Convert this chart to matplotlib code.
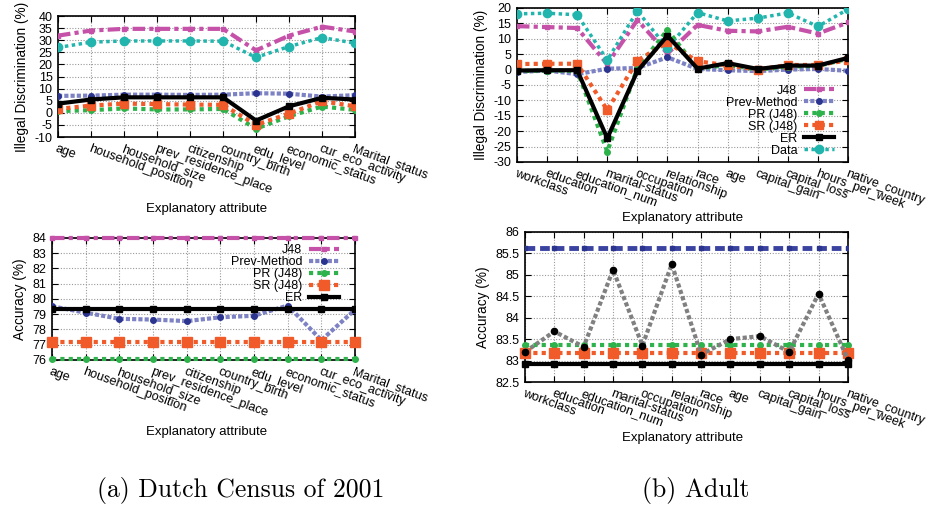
import matplotlib
matplotlib.use("Agg")
import matplotlib.pyplot as plt
import numpy as np

plt.rcParams["font.family"] = ["Liberation Sans", "DejaVu Sans"]
plt.rcParams["axes.unicode_minus"] = False
plt.rcParams["font.size"] = 9

# ---- (a) Dutch Census of 2001 ----
cats_a = ["age", "household_position", "household_size", "prev_residence_place",
          "citizenship", "country_birth", "edu_level", "economic_status",
          "cur_eco_activity", "Marital_status"]

disc_a_j48 = [31.9, 34.0, 34.7, 34.7, 34.7, 34.7, 25.8, 31.9, 35.6, 33.6]
disc_a_prev = [7.0, 7.1, 7.5, 7.5, 7.4, 7.5, 8.1, 7.9, 6.7, 7.3]
disc_a_pr = [0.7, 1.1, 1.8, 1.4, 1.4, 1.6, -6.6, -1.4, 2.6, 1.2]
disc_a_sr = [1.6, 3.0, 3.8, 3.6, 3.4, 3.3, -5.0, -0.3, 4.8, 2.7]
disc_a_er = [3.8, 5.5, 6.4, 6.4, 6.4, 6.4, -3.2, 2.7, 6.2, 5.5]
disc_a_data = [27.0, 29.2, 29.7, 29.7, 29.7, 29.6, 22.9, 27.4, 31.1, 28.8]

acc_a_j48 = [84.0] * 10
acc_a_prev = [79.52, 79.1, 78.7, 78.65, 78.55, 78.8, 78.9, 79.57, 77.3, 79.3]
acc_a_pr = [76.05] * 10
acc_a_sr = [77.15] * 10
acc_a_er = [79.35] * 10

# ---- (b) Adult ----
cats_b = ["workclass", "education", "education_num", "marital-status", "occupation",
          "relationship", "race", "age", "capital_gain", "capital_loss",
          "hours_per_week", "native_country"]

disc_b_j48 = [14.1, 13.8, 13.5, 1.8, 16.1, 5.2, 14.5, 12.6, 12.4, 13.9, 11.7, 15.3]
disc_b_prev = [-0.8, -0.3, -1.5, 0.3, 0.5, 4.0, 0.2, -0.2, -0.5, 0.0, 0.2, -0.4]
disc_b_pr = [-0.5, -0.3, -0.4, -26.6, 0.4, 12.9, 0.3, 1.5, 0.0, 1.0, 1.2, 3.5]
disc_b_sr = [1.8, 1.9, 1.9, -13.1, 2.9, 8.8, 2.7, 1.4, 0.0, 1.5, 1.5, 3.0]
disc_b_er = [-0.3, -0.2, -0.2, -22.3, -0.5, 11.0, 0.3, 2.1, 0.2, 1.3, 1.3, 3.8]
disc_b_data = [18.1, 18.3, 17.8, 3.1, 19.0, 7.0, 18.5, 15.8, 16.7, 18.4, 14.0, 19.6]

acc_b_j48 = [85.62] * 12
acc_b_prev = [83.2, 83.68, 83.32, 85.12, 83.35, 85.25, 83.14, 83.5, 83.57, 83.2, 84.56, 83.02]
acc_b_pr = [83.36] * 12
acc_b_sr = [83.18] * 12
acc_b_er = [82.91] * 12

C_J48 = "#c651a8"
C_PREV_LINE = "#7d82c4"
C_PREV_MK = "#2b3590"
C_PR = "#2eb24b"
C_SR = "#f15a29"
C_ER = "black"
C_DATA = "#22b5ad"


def style_axes(ax, cats, ylim, yticks):
    x = np.arange(len(cats))
    ax.set_xlim(0, len(cats) - 1)
    ax.set_ylim(*ylim)
    ax.set_yticks(yticks)
    ax.set_yticklabels([("%g" % v) for v in yticks], fontsize=9)
    ax.set_xticks(x)
    ax.set_xticklabels(cats, rotation=-20, ha="left", va="top",
                       rotation_mode="anchor", fontsize=9.1)
    ax.tick_params(direction="in", top=True, right=True, length=4, pad=4)
    ax.grid(True, color="#999999", linestyle=(0, (1, 1.5)), linewidth=0.8)
    ax.set_axisbelow(True)
    for s in ax.spines.values():
        s.set_linewidth(1.2)


def draw_disc(ax, x, j48, prev, pr, sr, er, data):
    ax.plot(x, j48, color=C_J48, lw=3, ls=(0, (3, 1, 1, 1)), marker="s", ms=3,
            label="J48", zorder=3)
    ax.plot(x, prev, color=C_PREV_LINE, lw=3, ls=(0, (1, 0.5)), marker="o", ms=4,
            mfc=C_PREV_MK, mec=C_PREV_MK, label="Prev-Method", zorder=3)
    ax.plot(x, pr, color=C_PR, lw=3, ls=(0, (1, 1)), marker="o", ms=4,
            label="PR (J48)", zorder=4)
    ax.plot(x, sr, color=C_SR, lw=3, ls=(0, (1, 1)), marker="s", ms=6,
            label="SR (J48)", zorder=5)
    ax.plot(x, er, color=C_ER, lw=3, ls="-", marker="s", ms=4,
            label="ER", zorder=6)
    ax.plot(x, data, color=C_DATA, lw=2.5, ls=(0, (1, 1)), marker="o", ms=6,
            label="Data", zorder=3)


def add_legend(ax, loc, anchor):
    leg = ax.legend(loc=loc, bbox_to_anchor=anchor, markerfirst=False,
                    frameon=False, handlelength=2.4, labelspacing=0.0,
                    borderpad=0.1, borderaxespad=0, handletextpad=0.5, fontsize=9)
    leg.set_zorder(10)
    return leg


fig = plt.figure(figsize=(9.27, 5.12), dpi=100)

# top-left
ax1 = fig.add_axes([0.0626, 0.7324, 0.3204, 0.2363])
xa = np.arange(len(cats_a))
draw_disc(ax1, xa, disc_a_j48, disc_a_prev, disc_a_pr, disc_a_sr, disc_a_er, disc_a_data)
style_axes(ax1, cats_a, (-10, 40), list(range(-10, 41, 5)))
ax1.set_ylabel("Illegal Discrimination (%)", fontsize=9.8)

# bottom-left
ax2 = fig.add_axes([0.0561, 0.2969, 0.3269, 0.2383])
ax2.plot(xa, acc_a_j48, color=C_J48, lw=3, ls=(0, (3, 1, 1, 1)), marker="s", ms=3,
         label="J48", zorder=3, clip_on=False)
ax2.plot(xa, acc_a_prev, color=C_PREV_LINE, lw=3, ls=(0, (1, 0.5)), marker="o", ms=4,
         mfc=C_PREV_MK, mec=C_PREV_MK, label="Prev-Method", zorder=3)
ax2.plot(xa, acc_a_pr, color=C_PR, lw=3, ls=(0, (1, 1)), marker="o", ms=4,
         label="PR (J48)", zorder=4, clip_on=False)
ax2.plot(xa, acc_a_sr, color=C_SR, lw=3, ls=(0, (1, 1)), marker="s", ms=6.5,
         label="SR (J48)", zorder=5, clip_on=False)
ax2.plot(xa, acc_a_er, color=C_ER, lw=3, ls="-", marker="s", ms=4,
         label="ER", zorder=6)
style_axes(ax2, cats_a, (76, 84), list(range(76, 85)))
ax2.set_ylabel("Accuracy (%)", fontsize=9.8)
add_legend(ax2, "upper right", (0.95, 0.96))

# top-right
ax3 = fig.add_axes([0.5577, 0.6836, 0.3571, 0.3008])
xb = np.arange(len(cats_b))
draw_disc(ax3, xb, disc_b_j48, disc_b_prev, disc_b_pr, disc_b_sr, disc_b_er, disc_b_data)
style_axes(ax3, cats_b, (-30, 20), list(range(-30, 21, 5)))
ax3.set_ylabel("Illegal Discrimination (%)", fontsize=9.8)
add_legend(ax3, "lower right", (0.96, 0.026))

# bottom-right
ax4 = fig.add_axes([0.5663, 0.2539, 0.3484, 0.293])
ax4.plot(xb, acc_b_j48, color="#3a43a0", lw=3.5, ls=(0, (2, 1)), marker="s", ms=3,
         mfc=C_PREV_MK, mec=C_PREV_MK, zorder=3)
ax4.plot(xb, acc_b_prev, color="#808080", lw=3, ls=(0, (1, 0.6)), marker="o", ms=4.5,
         mfc="black", mec="black", zorder=7, clip_on=False)
ax4.plot(xb, acc_b_pr, color=C_PR, lw=3, ls=(0, (1, 1)), marker="o", ms=4,
         zorder=4, clip_on=False)
ax4.plot(xb, acc_b_sr, color=C_SR, lw=3, ls=(0, (1, 1)), marker="s", ms=6.5,
         zorder=5, clip_on=False)
ax4.plot(xb, acc_b_er, color=C_ER, lw=3, ls="-", marker="s", ms=4,
         zorder=6, clip_on=False)
style_axes(ax4, cats_b, (82.5, 86), list(np.arange(82.5, 86.01, 0.5)))
ax4.set_ylabel("Accuracy (%)", fontsize=9.8)

# x labels
for (xc, yc) in [(207, 209), (207, 432), (683, 218), (683, 438)]:
    fig.text(xc / 927, 1 - yc / 512, "Explanatory attribute", ha="center",
             va="center", fontsize=9.5)

# captions
fig.text(241 / 927, 1 - 490 / 512, "(a) Dutch Census of 2001", ha="center",
         va="center", family="cmr10", fontsize=18.5)
fig.text(696 / 927, 1 - 490 / 512, "(b) Adult", ha="center", va="center",
         family="cmr10", fontsize=18.5)

fig.savefig("out.png", dpi=100)
